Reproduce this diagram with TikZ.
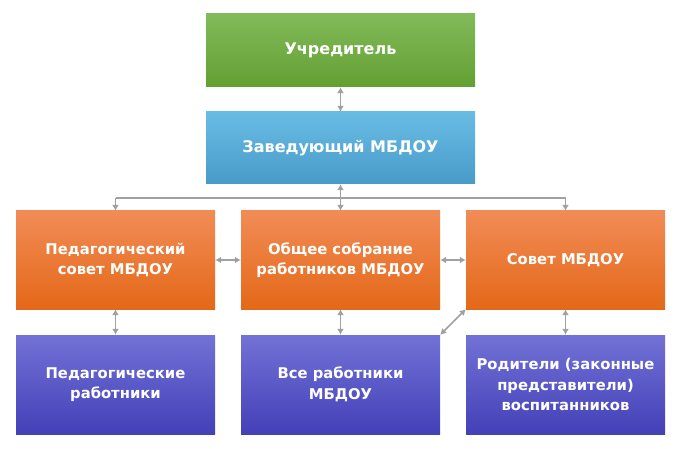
\documentclass[tikz,border=0pt]{standalone}
\usepackage{fontspec}
\setmainfont{DejaVu Sans}
\usepackage{tikz}
\usetikzlibrary{arrows.meta}

\definecolor{grtop}{RGB}{129,186,90}
\definecolor{grbot}{RGB}{99,160,50}
\definecolor{bltop}{RGB}{104,188,228}
\definecolor{blbot}{RGB}{72,155,200}
\definecolor{ortop}{RGB}{241,140,86}
\definecolor{orbot}{RGB}{228,104,24}
\definecolor{pltop}{RGB}{114,114,214}
\definecolor{plbot}{RGB}{68,64,184}
\definecolor{linkgray}{RGB}{160,160,160}

\begin{document}
\begin{tikzpicture}[x=1pt,y=-1pt]
	\tikzstyle{every node}+=[inner sep=0pt]
	\tikzstyle{box}=[rectangle, minimum width=199pt, minimum height=98pt, align=center,
		text=white, font=\fontsize{14.8}{20.5}\selectfont\bfseries]
	\tikzstyle{head}=[box, top color=grtop, bottom color=grbot, minimum width=269pt, minimum height=73pt,
		font=\fontsize{16}{20}\selectfont\bfseries]
	\tikzstyle{chief}=[head, top color=bltop, bottom color=blbot, minimum height=72pt]
	\tikzstyle{council}=[box, top color=ortop, bottom color=orbot]
	\tikzstyle{people}=[box, top color=pltop, bottom color=plbot, minimum height=99pt]
	\tikzstyle{wire}=[draw=linkgray, line width=1.5pt]
	\tikzstyle{link}=[wire, {Latex[length=6pt,width=7pt]}-{Latex[length=6pt,width=7pt]}]
	\tikzstyle{drop}=[wire, -{Latex[length=6pt,width=7pt]}]
	\useasboundingbox (0,0) rectangle (680,449);
	\node [head] (founder) at (340.5,50.5) {Учредитель};
	\node [chief] (head) at (340.5,148) {Заведующий МБДОУ};
	\node [council] (pedsovet) at (115.5,260) {Педагогический\\совет МБДОУ};
	\node [council] (meeting) at (340.5,260) {Общее собрание\\работников МБДОУ};
	\node [council] (board) at (565.5,260) {Совет МБДОУ};
	\node [people] (teachers) at (115.5,384.5) {Педагогические\\работники};
	\node [people] (staff) at (340.5,384.5) {Все работники\\МБДОУ};
	\node [people] (parents) at (565.5,384.5) {Родители (законные\\представители)\\воспитанников};
	\coordinate (busl) at (115.5,198);
	\coordinate (busr) at (565.5,198);
	\draw [link] (founder) -- (head);
	\draw [link] (head) -- (meeting);
	\draw [wire] (busl) -- (busr);
	\draw [drop] (busl) -- (pedsovet);
	\draw [drop] (busr) -- (board);
	\draw [link] (pedsovet) -- (meeting);
	\draw [link] (meeting) -- (board);
	\draw [link] (pedsovet) -- (teachers);
	\draw [link] (meeting) -- (staff);
	\draw [link] (board) -- (parents);
	\draw [link] (staff.north east) -- (board.south west);
\end{tikzpicture}
\end{document}
